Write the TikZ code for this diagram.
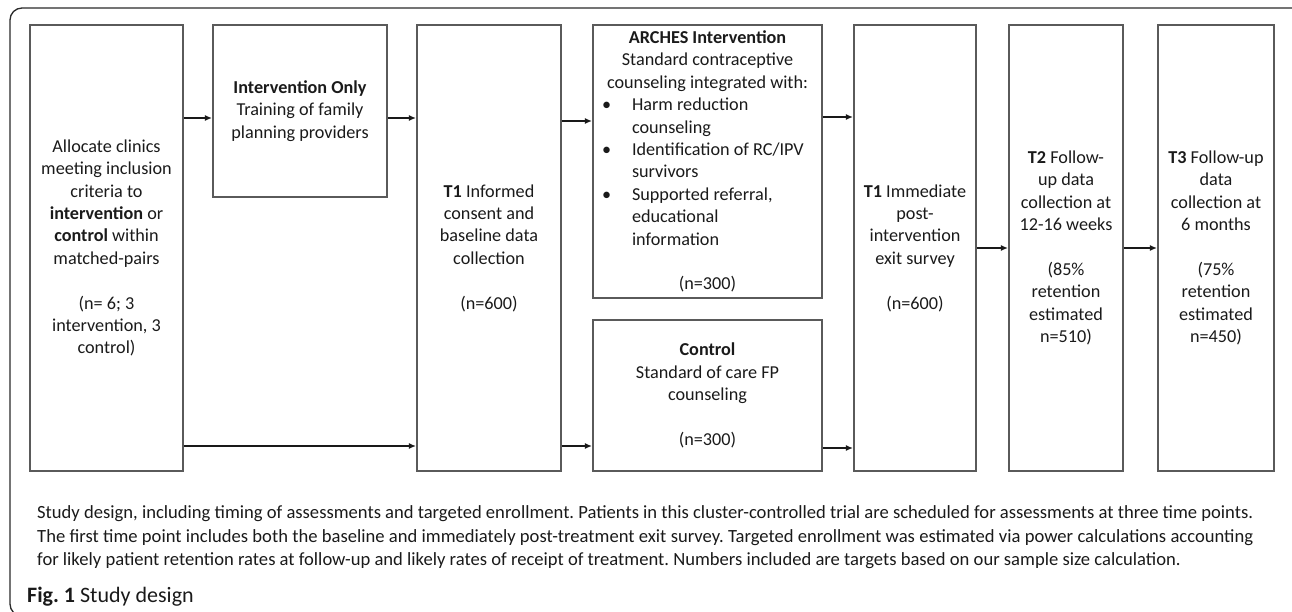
\documentclass[tikz,border=0pt]{standalone}
\usepackage{fontspec}
\setmainfont{Carlito}
\usetikzlibrary{arrows.meta}
\definecolor{boxline}{HTML}{5A5A5A}
\definecolor{txt}{HTML}{1A1A1A}
\definecolor{framecol}{HTML}{2A2A2A}
\newcommand\bitem[1]{\makebox[211pt][l]{\makebox[30pt][l]{\textbullet}#1}}
\newcommand\bcont[1]{\makebox[211pt][l]{\hspace{30pt}#1}}
\frenchspacing
\begin{document}
\begin{tikzpicture}[x=1pt,y=-1pt,
  box/.style={draw=boxline, line width=1.1pt, align=center, inner sep=0pt,
    font=\fontsize{18.2}{22.4}\selectfont, text=txt},
  arr/.style={draw=black!90, line width=1.3pt, -{Latex[length=7pt,width=6pt]}, shorten >=0.5pt},
  captext/.style={anchor=base west, inner sep=0pt, font=\fontsize{18.6}{24}\selectfont, text=txt}]
\useasboundingbox (0,0) rectangle (1292,611);
\begin{scope}
\clip (0,0) rectangle (1292,611);
\draw[draw=framecol, line width=1.3pt, rounded corners=12pt] (10,8) rectangle (1304,616);
\end{scope}

\node[box, minimum width=153pt, minimum height=446pt] (A) at (106.5,248)
 {Allocate clinics\\ meeting inclusion\\ criteria to\\ \textbf{intervention} or\\ \textbf{control} within\\ matched-pairs\\ \mbox{}\\ (n= 6; 3\\ intervention, 3\\ control)};
\node[box, minimum width=174pt, minimum height=172pt] (B) at (300,111)
 {\textbf{Intervention Only}\\ Training of family\\ planning providers};
\node[box, minimum width=144pt, minimum height=446pt] (C) at (489,248)
 {\textbf{T1} Informed\\ consent and\\ baseline data\\ collection\\ \mbox{}\\ (n=600)};
\node[box, minimum width=229pt, minimum height=273pt] (D) at (707.5,161.5)
 {\textbf{ARCHES Intervention}\\ Standard contraceptive\\ counseling integrated with:\\
  \bitem{Harm reduction}\\ \bcont{counseling}\\ \bitem{Identification of RC/IPV}\\ \bcont{survivors}\\
  \bitem{Supported referral,}\\ \bcont{educational}\\ \bcont{information}\\ \mbox{}\\ (n=300)};
\node[box, minimum width=229pt, minimum height=151pt] (E) at (707.5,395.5)
 {\textbf{Control}\\ Standard of care FP\\ counseling\\ \mbox{}\\ (n=300)};
\node[box, minimum width=122pt, minimum height=446pt] (F) at (915,248)
 {\textbf{T1} Immediate\\ post-\\ intervention\\ exit survey\\ \mbox{}\\ (n=600)};
\node[box, minimum width=114pt, minimum height=446pt] (G) at (1066,248)
 {\textbf{T2} Follow-\\ up data\\ collection at\\ 12-16 weeks\\ \mbox{}\\ (85\%\\ retention\\ estimated\\ n=510)};
\node[box, minimum width=116pt, minimum height=446pt] (H) at (1216,248)
 {\textbf{T3} Follow-up\\ data\\ collection at\\ 6 months\\ \mbox{}\\ (75\%\\ retention\\ estimated\\ n=450)};

\draw[arr] (A.east |- 0,118) -- (B.west |- 0,118);
\draw[arr] (B.east |- 0,118) -- (C.west |- 0,118);
\draw[arr] (C.east |- 0,121) -- (D.west |- 0,121);
\draw[arr] (D.east |- 0,117) -- (F.west |- 0,117);
\draw[arr] (A.east |- 0,446) -- (C.west |- 0,446);
\draw[arr] (C.east |- 0,446) -- (E.west |- 0,446);
\draw[arr] (E.east |- 0,448) -- (F.west |- 0,448);
\draw[arr] (F.east |- 0,248) -- (G.west |- 0,248);
\draw[arr] (G.east |- 0,248) -- (H.west |- 0,248);

\node[captext] (c1) at (37,518) {\makebox[1216pt][s]{Study design, including timing of assessments and targeted enrollment. Patients in this cluster-controlled trial are scheduled for assessments at three time points.}};
\node[captext] (c2) at (37,542) {\makebox[1216pt][s]{The first time point includes both the baseline and immediately post-treatment exit survey. Targeted enrollment was estimated via power calculations accounting}};
\node[captext] (c3) at (37,565) {for likely patient retention rates at follow-up and likely rates of receipt of treatment. Numbers included are targets based on our sample size calculation.};
\node[anchor=base west, inner sep=0pt, text=txt, font=\fontsize{22}{24}\selectfont] (fig) at (27,602) {\textbf{Fig. 1} Study design};
\end{tikzpicture}
\end{document}
